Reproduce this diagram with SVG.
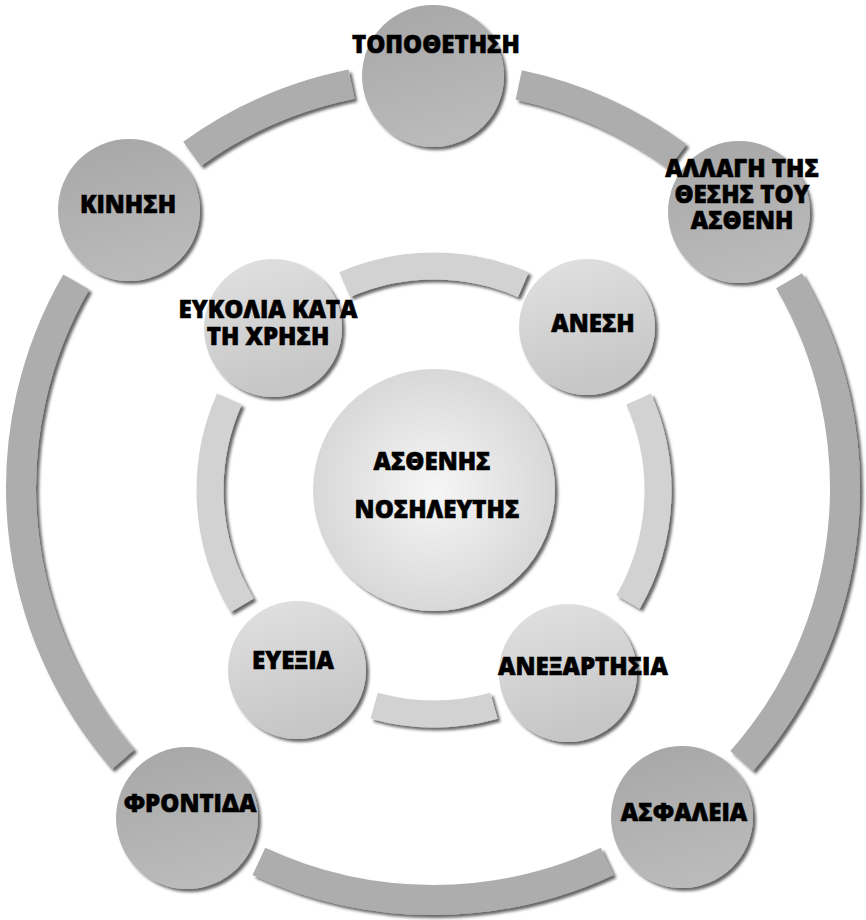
<svg xmlns="http://www.w3.org/2000/svg" width="866" height="920" viewBox="0 0 866 920">
<defs>
<linearGradient id="gOuter" x1="0" y1="0" x2="0.3" y2="1">
<stop offset="0" stop-color="#a6a6a6"/>
<stop offset="1" stop-color="#bababa"/>
</linearGradient>
<linearGradient id="gInner" x1="0" y1="0" x2="0.3" y2="1">
<stop offset="0" stop-color="#e2e2e2"/>
<stop offset="1" stop-color="#c6c6c6"/>
</linearGradient>
<radialGradient id="gCenter" cx="0.5" cy="0.5" r="0.5">
<stop offset="0" stop-color="#f6f6f6"/>
<stop offset="1" stop-color="#d8d8d8"/>
</radialGradient>
<filter id="sh" filterUnits="userSpaceOnUse" x="0" y="0" width="866" height="920">
<feDropShadow dx="3" dy="3" stdDeviation="1.8" flood-color="#000" flood-opacity="0.6"/>
</filter>
</defs>
<style>
.band-o{fill:none;stroke:#adadad;stroke-width:30;filter:url(#sh)}
.band-i{fill:none;stroke:#d2d2d2;stroke-width:27;filter:url(#sh)}
.outer{fill:url(#gOuter);filter:url(#sh)}
.inner{fill:url(#gInner);filter:url(#sh)}
.center{fill:url(#gCenter);filter:url(#sh)}
text{font-family:"Open Sans","Noto Sans","DejaVu Sans",sans-serif;font-weight:800;font-size:24px;fill:#000;stroke:#000;stroke-width:0.6;text-anchor:middle}
</style>
<rect width="866" height="920" fill="#fff"/>
<g id="connectors">
<path class="band-o" d="M518.7,85 A412,412 0 0 1 677.5,156.4"/>
<path class="band-o" d="M789.1,280.8 A412,412 0 0 1 741.6,761"/>
<path class="band-o" d="M607.1,861.4 A412,412 0 0 1 258.9,861.4"/>
<path class="band-o" d="M123,759.4 A412,412 0 0 1 76.2,282"/>
<path class="band-o" d="M192,153.8 A412,412 0 0 1 351.5,84.1"/>
<path class="band-i" d="M344.7,284.6 A224,224 0 0 1 523.3,284.6"/>
<path class="band-i" d="M638.6,398.9 A224,224 0 0 1 628,602"/>
<path class="band-i" d="M493.9,705.8 A224,224 0 0 1 374.1,705.8"/>
<path class="band-i" d="M242,605.4 A224,224 0 0 1 229.4,398.9"/>
</g>
<g id="center">
<circle class="center" cx="434" cy="490" r="121"/>
<text x="432" y="470">ΑΣΘΕΝΗΣ</text>
<text x="437" y="518">ΝΟΣΗΛΕΥΤΗΣ</text>
</g>
<g id="eykolia">
<circle class="inner" cx="273" cy="328" r="69"/>
<text x="268" y="318">ΕΥΚΟΛΙΑ ΚΑΤΑ</text>
<text x="268" y="345">ΤΗ ΧΡΗΣΗ</text>
</g>
<g id="anesi">
<circle class="inner" cx="587" cy="327" r="68"/>
<text x="593" y="332">ΑΝΕΣΗ</text>
</g>
<g id="eyexia">
<circle class="inner" cx="297" cy="670" r="69"/>
<text x="293" y="669">ΕΥΕΞΙΑ</text>
</g>
<g id="anexartisia">
<circle class="inner" cx="568" cy="673" r="69"/>
<text x="583" y="675">ΑΝΕΞΑΡΤΗΣΙΑ</text>
</g>
<g id="topothetisi">
<circle class="outer" cx="433" cy="76" r="71"/>
<text x="436" y="53">ΤΟΠΟΘΕΤΗΣΗ</text>
</g>
<g id="allagi">
<circle class="outer" cx="739" cy="212" r="71"/>
<text x="742" y="177">ΑΛΛΑΓΗ ΤΗΣ</text>
<text x="742" y="203">ΘΕΣΗΣ ΤΟΥ</text>
<text x="742" y="229">ΑΣΘΕΝΗ</text>
</g>
<g id="asfaleia">
<circle class="outer" cx="682" cy="817" r="71"/>
<text x="684" y="821">ΑΣΦΑΛΕΙΑ</text>
</g>
<g id="frontida">
<circle class="outer" cx="187" cy="818" r="71"/>
<text x="190" y="812">ΦΡΟΝΤΙΔΑ</text>
</g>
<g id="kinisi">
<circle class="outer" cx="129" cy="210" r="71"/>
<text x="128" y="213">ΚΙΝΗΣΗ</text>
</g>
</svg>
